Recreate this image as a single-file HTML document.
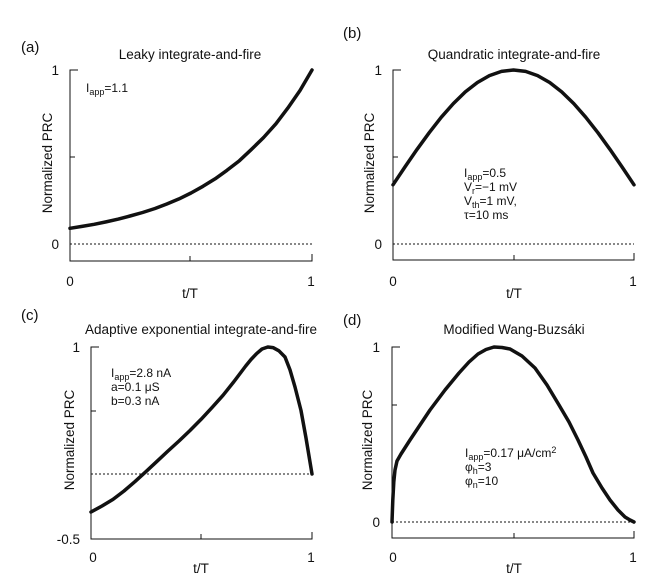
<!DOCTYPE html>
<html><head><meta charset="utf-8"><style>body{margin:0;background:#fff}svg{display:block}text{font-family:"Liberation Sans",Arial,sans-serif;fill:#111}</style></head><body>
<svg width="652" height="578" viewBox="0 0 652 578" xmlns="http://www.w3.org/2000/svg">
<g stroke="#111" stroke-width="1" fill="none">
<path d="M78,70H70V261H312V254M190,261V256M70,157H75"/>
<line x1="70" y1="244" x2="312" y2="244" stroke-dasharray="2,2"/>
<path d="M401,70H393V260H634V253M514,260V255M393,157H398"/>
<line x1="393" y1="244" x2="634" y2="244" stroke-dasharray="2,2"/>
<path d="M99,347H91V539H312V532M201,539V534M91,411H96"/>
<line x1="91" y1="474" x2="312" y2="474" stroke-dasharray="2,2"/>
<path d="M400,347H392V538H634V531M514,538V533M392,405H397"/>
<line x1="392" y1="522" x2="634" y2="522" stroke-dasharray="2,2"/>
</g>
<g stroke="#111" stroke-width="3.5" fill="none" stroke-linejoin="round" stroke-linecap="round">
<polyline points="70,228.3 82,226.4 94.2,224.3 106,221.9 118.4,219.1 130,216 142.6,212.5 155,208.5 166.8,204 179,198.9 191,193 203,186.3 215.2,178.8 227,170.3 239.4,160.7 251,149.8 263.6,137.5 276,123.7 287.8,108.1 300,90.5 312,70"/>
<polyline points="393,184.8 405,166.9 417.1,149.3 429.2,132.7 441.2,117.3 453.3,103.6 465.3,91.9 477.4,82.5 489.4,75.6 501.5,71.4 513.5,70 525.6,71.4 537.6,75.6 549.7,82.5 561.7,91.9 573.8,103.6 585.8,117.3 597.9,132.7 609.9,149.3 622,166.9 634,184.8"/>
<polyline points="91,512 102,506 113,499.4 124,491 135,481.6 146,471.6 157,461.3 168,451 179,441 190,430.5 201,419.4 212,407.6 223,395.3 234,381.5 245.7,366 251,359.5 256.8,353.4 262,349 267.8,347 273,347.6 278.9,350.8 285,357 290,369.9 295,387 301,410.5 306,438 312,474"/>
<polyline points="392,522 392.8,500 393.8,482 395,470 397,461 401,454 410,440 420,425 430,410 445,390 459,373 469,362 478,354 486,349.5 494,347 502,347.5 510,349 522,356 535,368 547,385 559,405 569,422 578,440 586,457 593,473 602,488 610,500 618,510 625,517 630,520 634,522"/>
</g>
<g font-size="15">
<text x="21" y="52">(a)</text><text x="343" y="38">(b)</text><text x="21" y="320">(c)</text><text x="343" y="325">(d)</text>
</g>
<g font-size="13.5" text-anchor="middle">
<text x="190" y="59">Leaky integrate-and-fire</text>
<text x="514" y="59">Quandratic integrate-and-fire</text>
<text x="201" y="334">Adaptive exponential integrate-and-fire</text>
<text x="514" y="334">Modified Wang-Buzsáki</text>
<text x="190" y="298">t/T</text><text x="514" y="298">t/T</text>
<text x="201" y="573">t/T</text><text x="514" y="573">t/T</text>
<text transform="translate(52,163) rotate(-90)">Normalized PRC</text>
<text transform="translate(374,163) rotate(-90)">Normalized PRC</text>
<text transform="translate(74,440) rotate(-90)">Normalized PRC</text>
<text transform="translate(372,440) rotate(-90)">Normalized PRC</text>
<text x="70" y="286">0</text><text x="311" y="286">1</text>
<text x="393" y="286">0</text><text x="633" y="286">1</text>
<text x="93" y="562">0</text><text x="311" y="562">1</text>
<text x="393" y="562">0</text><text x="633" y="562">1</text>
</g>
<g font-size="13.5" text-anchor="end">
<text x="59" y="75">1</text><text x="59" y="249">0</text>
<text x="382" y="75">1</text><text x="382" y="249">0</text>
<text x="80" y="352">1</text><text x="80" y="544">-0.5</text>
<text x="380" y="352">1</text><text x="380" y="527">0</text>
</g>
<g font-size="12">
<text x="86" y="92">I<tspan font-size="9" dy="3">app</tspan><tspan dy="-3">=1.1</tspan></text>
<text x="464" y="177">I<tspan font-size="9" dy="3">app</tspan><tspan dy="-3">=0.5</tspan></text>
<text x="464" y="191">V<tspan font-size="9" dy="3">r</tspan><tspan dy="-3">=−1 mV</tspan></text>
<text x="464" y="205">V<tspan font-size="9" dy="3">th</tspan><tspan dy="-3">=1 mV,</tspan></text>
<text x="464" y="219">τ=10 ms</text>
<text x="111" y="377">I<tspan font-size="9" dy="3">app</tspan><tspan dy="-3">=2.8 nA</tspan></text>
<text x="111" y="391">a=0.1 μS</text>
<text x="111" y="405">b=0.3 nA</text>
<text x="465" y="457">I<tspan font-size="9" dy="3">app</tspan><tspan dy="-3">=0.17 μA/cm</tspan><tspan font-size="9" dy="-4">2</tspan></text>
<text x="465" y="471">φ<tspan font-size="9" dy="3">h</tspan><tspan dy="-3">=3</tspan></text>
<text x="465" y="485">φ<tspan font-size="9" dy="3">n</tspan><tspan dy="-3">=10</tspan></text>
</g>
</svg>
</body></html>
